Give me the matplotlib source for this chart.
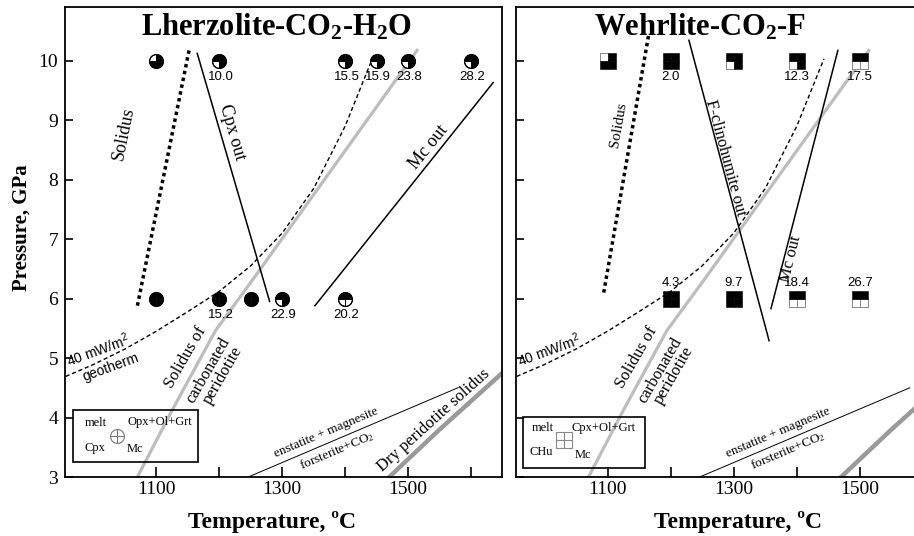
import matplotlib
matplotlib.use('Agg')
import matplotlib.pyplot as plt
from matplotlib.path import Path
from matplotlib.patches import Rectangle

plt.rcParams['font.family'] = 'Liberation Serif'
plt.rcParams['mathtext.default'] = 'regular'

# Experiments, Lherzolite-CO2-H2O (phases: melt, Opx+Ol+Grt, Cpx, Mc)
lhz_T = [1100, 1200, 1400, 1450, 1500, 1600, 1100, 1200, 1250, 1300, 1400]
lhz_P = [10, 10, 10, 10, 10, 10, 6, 6, 6, 6, 6]
lhz_phases = ['0111', '1101', '1101', '1101', '1101', '1101',
              '1111', '1111', '1111', '1101', '1100']
lhz_melt = ['', '10.0', '15.5', '15.9', '23.8', '28.2', '', '15.2', '', '22.9', '20.2']

# Experiments, Wehrlite-CO2-F (phases: melt, Cpx+Ol+Grt, CHu, Mc)
wh_T = [1100, 1200, 1300, 1400, 1500, 1200, 1300, 1400, 1500]
wh_P = [10, 10, 10, 10, 10, 6, 6, 6, 6]
wh_phases = ['0111', '1111', '1101', '1101', '1100', '1111', '1111', '1100', '1100']
wh_melt = ['', '2.0', '', '12.3', '17.5', '4.3', '9.7', '18.4', '26.7']

# Reference curves
geo_T = [956, 1000, 1050, 1100, 1150, 1200, 1250, 1300, 1350, 1400, 1443]
geo_P = [4.69, 4.89, 5.15, 5.45, 5.78, 6.12, 6.55, 7.10, 7.85, 8.90, 10.03]
carb_T = [1065, 1125, 1194, 1252, 1514]
carb_P = [2.9, 4.12, 5.46, 6.30, 10.17]
dry_T = [1460, 1550, 1660]
dry_P = [2.9, 3.8, 4.85]
ensmag_T = [1246, 1579]
ensmag_P = [3.0, 4.5]

# Phase boundaries
lhz_sol_T = [1070, 1152]
lhz_sol_P = [5.88, 10.17]
cpx_T = [1165, 1280]
cpx_P = [10.12, 5.95]
lhz_mc_T = [1352, 1635]
lhz_mc_P = [5.88, 9.63]
wh_sol_T = [1094, 1165]
wh_sol_P = [6.10, 10.42]
chu_T = [1229, 1356]
chu_P = [10.34, 5.29]
wh_mc_T = [1359, 1465]
wh_mc_P = [5.83, 10.17]

QUAD_ANG = [(90, 180), (0, 90), (180, 270), (270, 360)]
QUAD_SQ = [(-1, 1), (1, 1), (-1, -1), (1, -1)]


def quad(shape, q):
    if shape == 'o':
        return Path.wedge(*QUAD_ANG[q])
    sx, sy = QUAD_SQ[q]
    return [(0, 0), (sx, 0), (sx, sy), (0, sy), (0, 0)]


def draw_points(ax, T, P, phases, shape, ms, edge):
    for t, p, ph in zip(T, P, phases):
        for q, on in enumerate(ph):
            if on == '0':
                ax.plot([t], [p], marker=quad(shape, q), ms=ms, mfc='white',
                        mec=edge, mew=0.7, ls='none', zorder=5)
        for q, on in enumerate(ph):
            if on == '1':
                ax.plot([t], [p], marker=quad(shape, q), ms=ms, mfc='black',
                        mec='black', mew=0.4, ls='none', zorder=6)
        if shape == 'o':
            ax.plot([t], [p], marker='o', ms=ms, mfc='none', mec='black',
                    mew=0.9, ls='none', zorder=7)


def common(ax):
    ax.plot(geo_T, geo_P, color='black', lw=1.0, ls=(0, (3, 2)))
    ax.plot(carb_T, carb_P, color='#bdbdbd', lw=2.3)
    ax.plot(dry_T, dry_P, color='#9a9a9a', lw=3.2)
    ax.plot(ensmag_T, ensmag_P, color='black', lw=0.7)
    ax.text(1146, 5.01, 'Solidus of', rotation=60, fontsize=12,
            ha='center', va='center')
    ax.text(1183, 4.79, 'carbonated', rotation=60, fontsize=12,
            ha='center', va='center')
    ax.text(1205, 4.71, 'peridotite', rotation=60, fontsize=12,
            ha='center', va='center')
    ax.text(1370, 3.74, 'enstatite + magnesite', rotation=23, fontsize=9.5,
            ha='center', va='center')
    ax.text(1386, 3.45, 'forsterite+CO$_2$', rotation=23, fontsize=9.5,
            ha='center', va='center')
    ax.text(1008, 5.13, '40 mW/m$^2$', rotation=20, fontsize=10,
            family='Liberation Sans', ha='center', va='center')

    ax.set_xlim(955, 1649)
    ax.set_ylim(3, 10.9)
    ax.set_xticks([1100, 1200, 1300, 1400, 1500, 1600])
    ax.set_xticklabels(['1100', '', '1300', '', '1500', ''])
    ax.set_yticks([3, 4, 5, 6, 7, 8, 9, 10])
    ax.tick_params(axis='x', direction='in', length=7, width=1.2,
                   labelsize=14, pad=3)
    ax.tick_params(axis='y', direction='in', length=6, width=1.2,
                   labelsize=14, pad=5)
    for s in ax.spines.values():
        s.set_linewidth(1.3)


fig = plt.figure(figsize=(9.14, 5.36), dpi=100)
ax1 = fig.add_axes([65 / 914, 59 / 536, 437 / 914, 470 / 536])
ax2 = fig.add_axes([516 / 914, 59 / 536, 438 / 914, 470 / 536])

# ---- Lherzolite panel
common(ax1)
ax1.plot(lhz_sol_T, lhz_sol_P, color='black', lw=2.5, ls=(0, (1, 1)))
ax1.plot(cpx_T, cpx_P, color='black', lw=1.1)
ax1.plot(lhz_mc_T, lhz_mc_P, color='black', lw=1.1)
ax1.text(1049, 8.77, 'Solidus', rotation=78.5, fontsize=13, ha='center', va='center')
ax1.text(1221, 8.79, 'Cpx out', rotation=-74, fontsize=13, ha='center', va='center')
ax1.text(1532, 8.54, 'Mc out', rotation=51, fontsize=13, ha='center', va='center')
ax1.text(1027, 4.84, 'geotherm', rotation=20, fontsize=10,
         family='Liberation Sans', ha='center', va='center')
ax1.text(1540, 3.95, 'Dry peridotite solidus', rotation=42, fontsize=12,
         ha='center', va='center')
draw_points(ax1, lhz_T, lhz_P, lhz_phases, 'o', 10, 'black')
for t, p, lab in zip(lhz_T, lhz_P, lhz_melt):
    if lab:
        ax1.annotate(lab, (t, p), xytext=(1, -12), textcoords='offset points',
                     ha='center', va='center', fontsize=9.5, family='Liberation Sans')
ax1.text(0.485, 0.94, 'Lherzolite-CO$_2$-H$_2$O', transform=ax1.transAxes,
         ha='center', va='baseline', fontsize=22, fontweight='bold')
ax1.add_patch(Rectangle((0.0183, 0.0319), 0.286, 0.1106, transform=ax1.transAxes,
                        fill=False, ec='black', lw=1.2, zorder=8))
ax1.text(0.071, 0.115, 'melt', transform=ax1.transAxes, fontsize=9, ha='center', va='center')
ax1.text(0.217, 0.117, 'Opx+Ol+Grt', transform=ax1.transAxes, fontsize=9, ha='center', va='center')
ax1.text(0.069, 0.062, 'Cpx', transform=ax1.transAxes, fontsize=9, ha='center', va='center')
ax1.text(0.160, 0.060, 'Mc', transform=ax1.transAxes, fontsize=9, ha='center', va='center')
ax1.plot([0.119], [0.087], marker='o', ms=10, mfc='white', mec='#777777', mew=0.8,
         transform=ax1.transAxes)
ax1.plot([0.119], [0.087], marker='+', ms=10, mec='#777777', mew=0.8,
         transform=ax1.transAxes)

# ---- Wehrlite panel
common(ax2)
ax2.set_yticklabels([])
ax2.plot(wh_sol_T, wh_sol_P, color='black', lw=2.5, ls=(0, (1, 1)))
ax2.plot(chu_T, chu_P, color='black', lw=1.1)
ax2.plot(wh_mc_T, wh_mc_P, color='black', lw=1.1)
ax2.text(1117, 8.91, 'Solidus', rotation=80, fontsize=11, ha='center', va='center')
ax2.text(1287, 8.37, 'F-clinohumite out', rotation=-75, fontsize=12,
         ha='center', va='center')
ax2.text(1390, 6.67, 'Mc out', rotation=76, fontsize=12, ha='center', va='center')
draw_points(ax2, wh_T, wh_P, wh_phases, 's', 11, '#888888')
for t, p, lab in zip(wh_T, wh_P, wh_melt):
    if lab:
        dy = -12 if p > 8 else 11.5
        ax2.annotate(lab, (t, p), xytext=(0, dy), textcoords='offset points',
                     ha='center', va='center', fontsize=9.5, family='Liberation Sans')
ax2.text(0.42, 0.94, 'Wehrlite-CO$_2$-F', transform=ax2.transAxes,
         ha='center', va='baseline', fontsize=22, fontweight='bold')
ax2.add_patch(Rectangle((0.016, 0.0191), 0.2785, 0.1085, transform=ax2.transAxes,
                        fill=False, ec='black', lw=1.2, zorder=8))
ax2.text(0.062, 0.104, 'melt', transform=ax2.transAxes, fontsize=9, ha='center', va='center')
ax2.text(0.201, 0.104, 'Cpx+Ol+Grt', transform=ax2.transAxes, fontsize=9, ha='center', va='center')
ax2.text(0.057, 0.053, 'CHu', transform=ax2.transAxes, fontsize=9, ha='center', va='center')
ax2.text(0.153, 0.047, 'Mc', transform=ax2.transAxes, fontsize=9, ha='center', va='center')
ax2.plot([0.110], [0.079], marker='s', ms=12, mfc='white', mec='#888888', mew=0.8,
         transform=ax2.transAxes)
ax2.plot([0.110], [0.079], marker='+', ms=12, mec='#888888', mew=0.8,
         transform=ax2.transAxes)

# Axis labels
ax1.text(0.474, -0.1085, 'Temperature, ºC', transform=ax1.transAxes,
         ha='center', va='baseline', fontsize=17, fontweight='bold')
ax2.text(0.507, -0.1085, 'Temperature, ºC', transform=ax2.transAxes,
         ha='center', va='baseline', fontsize=17, fontweight='bold')
fig.text(22 / 914, 1 - 228 / 536, 'Pressure, GPa', rotation=90,
         ha='center', va='center', fontsize=15, fontweight='bold')

fig.savefig('out.png', dpi=100)
